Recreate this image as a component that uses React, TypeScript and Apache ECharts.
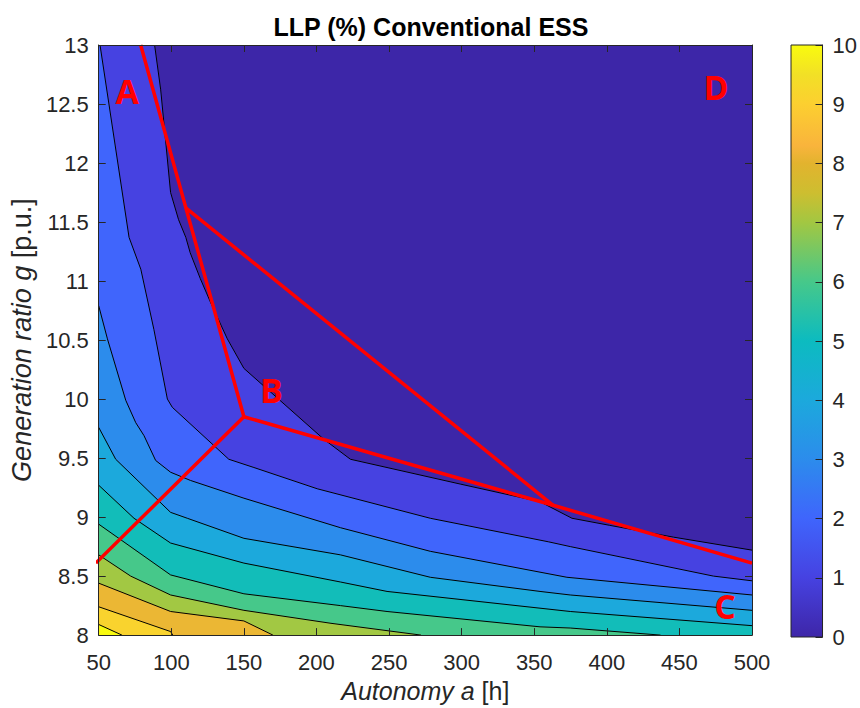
import React, { useEffect, useRef } from 'react';
import * as echarts from 'echarts';

// Axis ranges (Autonomy a [h], Generation ratio g [p.u.])
const aMin = 50, aMax = 500, aStep = 50;
const gMin = 8, gMax = 13, gStep = 0.5;
const cbMin = 0, cbMax = 10, cbStep = 1;

// Contour lines (LLP levels 1..10), points [a, g]
const contour1: number[][] = [[88.5, 13], [92.7, 12.62], [99.5, 11.75], [105, 11.52], [110, 11.37], [113, 11.24], [120, 11.02], [127, 10.82], [138.6, 10.51], [150, 10.26], [205, 9.66], [223.4, 9.49], [299, 9.28], [354, 9.13], [376, 8.99], [402, 8.93], [446, 8.83], [500, 8.72]];
const contour2: number[][] = [[50.9, 13], [70.9, 11.37], [79, 11.1], [88, 10.59], [97.3, 10.0], [100.7, 9.93], [139.6, 9.49], [156.9, 9.42], [200.5, 9.24], [278.4, 8.99], [360, 8.79], [374.8, 8.75], [473.4, 8.5], [500, 8.46]];
const contour3: number[][] = [[50, 10.79], [56, 10.51], [68.6, 9.99], [75.5, 9.8], [81.2, 9.69], [89.2, 9.48], [99.5, 9.38], [113.3, 9.31], [150, 9.16], [216.5, 8.91], [278.4, 8.71], [372.5, 8.49], [500, 8.34]];
const contour4: number[][] = [[50, 9.76], [61.7, 9.49], [99.5, 9.04], [111, 8.99], [150, 8.82], [216.5, 8.68], [278.4, 8.49], [354, 8.37], [374.8, 8.34], [500, 8.21]];
const contour5: number[][] = [[50, 9.27], [74.3, 8.99], [99.5, 8.78], [150, 8.61], [216.5, 8.45], [248.6, 8.37], [374.8, 8.2], [500, 8.08]];
const contour6: number[][] = [[50, 8.94], [99.5, 8.51], [150, 8.35], [216.5, 8.25], [248.6, 8.2], [354, 8.07], [374.8, 8.06], [437, 8]];
const contour7: number[][] = [[50, 8.68], [72, 8.5], [99.5, 8.34], [150, 8.21], [210, 8.1], [272, 8]];
const contour8: number[][] = [[50, 8.44], [99.5, 8.2], [150, 8.12], [170, 8]];
const contour9: number[][] = [[50, 8.24], [99.5, 8.03], [101, 8]];
const contour10: number[][] = [[50, 8.09], [66, 8]];
const contourLines = [contour1, contour2, contour3, contour4, contour5, contour6, contour7, contour8, contour9, contour10];

// Fill colours of the bands (value ranges 0-1, 1-2, ..., >=10)
const bandColors = ['#3D26A8', '#4642E1', '#4065FC', '#2C8CEC', '#1CA9DC', '#12BDB9', '#46C88A', '#A2C843', '#EBB734', '#F9D32E', '#F8FA0F'];

// Colour bar (parula) stops
const cbStops: [number, string][] = [[0, '#3E26A8'], [0.1, '#4642E1'], [0.2, '#3F65FC'], [0.3, '#2C8CEC'], [0.4, '#1CA9DC'], [0.5, '#0CBBC0'], [0.6, '#46C88A'], [0.7, '#A2C742'], [0.75, '#CDBE30'], [0.8, '#E2B32E'], [0.83, '#F9B43C'], [0.9, '#FCCF30'], [0.95, '#F2E026'], [1, '#F9FB0E']];

// Red annotation lines
const redLineAB: number[][] = [[78.9, 13], [150, 9.85], [48, 8.61]];
const redLineBC: number[][] = [[150, 9.85], [363, 9.1], [500, 8.61]];
const redLineDiag: number[][] = [[110, 11.62], [363, 9.1]];

// Region letters
const regionLetters = ['A', 'B', 'C', 'D'];
const regionA = [69.7, 168.9, 481.4, 475.2];
const regionG = [12.61, 10.08, 8.25, 12.64];

const FONT = '"Liberation Sans", Arial, Helvetica, sans-serif';
const AX = '#262626';

function regionPolygon(line: number[][]): number[][] {
  const pts = line.slice();
  const first = line[0];
  const last = line[line.length - 1];
  if (last[0] >= aMax - 1e-6 && last[1] > gMin) pts.push([aMax, gMin]);
  pts.push([aMin, gMin]);
  if (first[1] >= gMax - 1e-6 && first[0] > aMin) pts.push([aMin, gMax]);
  return pts;
}

export default function App() {
  const ref = useRef<HTMLDivElement>(null);
  useEffect(() => {
    if (!ref.current) return;
    const chart = echarts.init(ref.current, undefined, { renderer: 'svg' });
    const fullRect = [[aMin, gMax], [aMax, gMax], [aMax, gMin], [aMin, gMin]];
    const polys = [fullRect, ...contourLines.map(regionPolygon)];

    const axisCommon = {
      axisLine: { show: true, onZero: false, lineStyle: { color: AX, width: 1 } },
      axisTick: { show: true, inside: true, length: 7, lineStyle: { color: AX, width: 1 } },
      splitLine: { show: false },
      z: 10,
    };

    const option: any = {
      animation: false,
      textStyle: { fontFamily: FONT },
      title: {
        text: 'LLP (%) Conventional ESS',
        left: 426,
        textAlign: 'center',
        top: 9,
        textStyle: { fontFamily: FONT, fontWeight: 'bold', fontSize: 25, color: '#000' },
      },
      grid: [
        { left: 98, top: 45, width: 654, height: 592 },
        { left: 791, top: 45, width: 37, height: 592 },
      ],
      xAxis: [
        {
          ...axisCommon, gridIndex: 0, type: 'value', min: aMin, max: aMax, interval: aStep, position: 'bottom',
          axisLabel: { fontSize: 22, color: AX, margin: 16, fontFamily: FONT },
          name: '{i|Autonomy a} {n|[h]}', nameLocation: 'middle', nameGap: 41,
          nameTextStyle: {
            fontSize: 25, color: AX, fontFamily: FONT,
            rich: { i: { fontStyle: 'italic', fontSize: 25, color: AX, fontFamily: FONT }, n: { fontSize: 25, color: AX, fontFamily: FONT } },
          },
        },
        { ...axisCommon, gridIndex: 0, type: 'value', min: aMin, max: aMax, interval: aStep, position: 'top', axisLabel: { show: false } },
        { gridIndex: 1, type: 'value', min: 0, max: 1, show: false },
      ],
      yAxis: [
        {
          ...axisCommon, gridIndex: 0, type: 'value', min: gMin, max: gMax, interval: gStep, position: 'left',
          axisLabel: { fontSize: 22, color: AX, margin: 10, fontFamily: FONT },
          name: '{i|Generation ratio g} {n|[p.u.]}', nameLocation: 'middle', nameGap: 62, nameRotate: 90,
          nameTextStyle: {
            fontSize: 27, color: AX, fontFamily: FONT,
            rich: { i: { fontStyle: 'italic', fontSize: 27, color: AX, fontFamily: FONT }, n: { fontSize: 27, color: AX, fontFamily: FONT } },
          },
        },
        { ...axisCommon, gridIndex: 0, type: 'value', min: gMin, max: gMax, interval: gStep, position: 'right', axisLabel: { show: false } },
        {
          ...axisCommon, gridIndex: 1, type: 'value', min: cbMin, max: cbMax, interval: cbStep, position: 'right',
          axisLabel: { fontSize: 22, color: AX, margin: 10, fontFamily: FONT },
        },
      ],
      series: [
        {
          type: 'custom', xAxisIndex: 0, yAxisIndex: 0, z: 1, silent: true, clip: true,
          data: polys.map((_, i) => [275, 10.5, i]),
          encode: { x: 0, y: 1 },
          renderItem: (params: any, api: any) => {
            const i = params.dataIndex;
            return {
              type: 'polygon',
              shape: { points: polys[i].map((p) => api.coord(p)) },
              style: { fill: bandColors[i], stroke: bandColors[i], lineWidth: 0.5 },
            };
          },
        },
        ...contourLines.map((line) => ({
          type: 'line', xAxisIndex: 0, yAxisIndex: 0, data: line, symbol: 'none', showSymbol: false,
          lineStyle: { color: '#000', width: 1 }, z: 3, silent: true,
        })),
        ...[redLineAB, redLineBC, redLineDiag].map((line) => ({
          type: 'line', xAxisIndex: 0, yAxisIndex: 0, data: line, symbol: 'none', showSymbol: false,
          lineStyle: { color: '#FF0000', width: 3.5 }, z: 4, silent: true, clip: false,
        })),
        {
          type: 'custom', xAxisIndex: 0, yAxisIndex: 0, z: 5, silent: true,
          data: regionLetters.map((l, i) => [regionA[i], regionG[i], i]),
          encode: { x: 0, y: 1 },
          renderItem: (params: any, api: any) => {
            const i = params.dataIndex;
            const p = api.coord([regionA[i], regionG[i]]);
            return {
              type: 'text', x: p[0], y: p[1],
              style: {
                text: regionLetters[i], fill: '#FF0000', fontSize: 34, fontWeight: 'bold',
                fontFamily: '"Open Sans", "Noto Sans", sans-serif', align: 'center', verticalAlign: 'middle',
              },
            };
          },
        },
        {
          type: 'custom', xAxisIndex: 2, yAxisIndex: 2, z: 1, silent: true,
          data: [[0.5, 5]],
          encode: { x: 0, y: 1 },
          renderItem: (params: any, api: any) => {
            const p0 = api.coord([0, cbMax]);
            const p1 = api.coord([1, cbMin]);
            return {
              type: 'rect',
              shape: { x: p0[0], y: p0[1], width: p1[0] - p0[0], height: p1[1] - p0[1] },
              style: {
                fill: new echarts.graphic.LinearGradient(0, 1, 0, 0, cbStops.map(([o, c]) => ({ offset: o, color: c }))),
                stroke: AX, lineWidth: 1,
              },
            };
          },
        },
      ],
    };
    chart.setOption(option);
    return () => chart.dispose();
  }, []);
  return <div ref={ref} style={{ position: 'fixed', left: 0, top: 0, width: 860, height: 708, background: '#fff' }} />;
}
